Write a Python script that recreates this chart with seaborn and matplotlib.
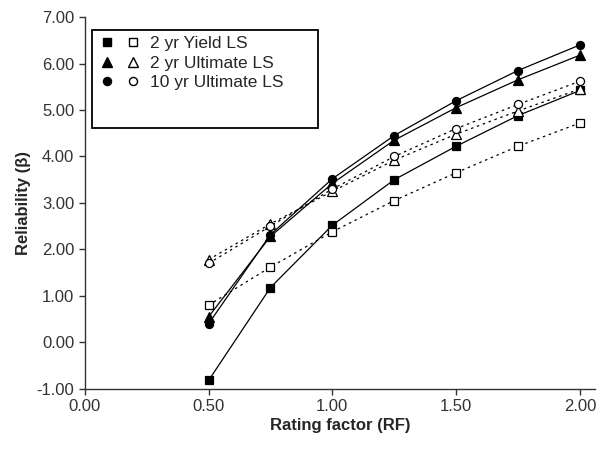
import matplotlib
matplotlib.use("Agg")
import matplotlib.pyplot as plt
import seaborn as sns
import pandas as pd
from matplotlib.lines import Line2D
from matplotlib.patches import Rectangle
from matplotlib.legend_handler import HandlerTuple

rf = [0.5, 0.75, 1.0, 1.25, 1.5, 1.75, 2.0]
yield2_solid = [-0.82, 1.18, 2.52, 3.50, 4.22, 4.88, 5.42]
yield2_open = [0.80, 1.62, 2.38, 3.05, 3.65, 4.22, 4.72]
ult2_solid = [0.55, 2.28, 3.42, 4.35, 5.05, 5.65, 6.18]
ult2_open = [1.78, 2.55, 3.25, 3.92, 4.48, 4.98, 5.45]
ult10_solid = [0.40, 2.32, 3.52, 4.45, 5.20, 5.85, 6.40]
ult10_open = [1.70, 2.50, 3.30, 4.00, 4.60, 5.12, 5.62]
legend_labels = ["2 yr Yield LS", "2 yr Ultimate LS", "10 yr Ultimate LS"]
x_ticks = [0.0, 0.5, 1.0, 1.5, 2.0]
y_ticks = [-1, 0, 1, 2, 3, 4, 5, 6, 7]

sns.set_style("ticks")
plt.rcParams['font.family'] = ['Liberation Sans', 'DejaVu Sans']

fig = plt.figure(figsize=(6.10, 4.49), dpi=100)
ax = fig.add_axes([0.139, 0.134, 0.836, 0.828])

msize = {'s': 6, '^': 6.5, 'o': 5.8}
series = [
    (yield2_solid, 's', True), (yield2_open, 's', False),
    (ult2_solid, '^', True), (ult2_open, '^', False),
    (ult10_solid, 'o', True), (ult10_open, 'o', False),
]
for vals, mk, filled in series:
    df = pd.DataFrame({"rf": rf, "r": vals})
    sns.lineplot(data=df, x="rf", y="r", ax=ax, color="black",
                 linewidth=0.9,
                 linestyle='-' if filled else (0, (2, 3)),
                 marker=mk, markersize=msize[mk],
                 markerfacecolor='black' if filled else 'white',
                 markeredgecolor='black', markeredgewidth=0.9)

ax.set_xlim(0, 2.06)
ax.set_ylim(-1, 7)
ax.set_xticks(x_ticks)
ax.set_yticks(y_ticks)
ax.set_xticklabels([f"{t:.2f}" for t in x_ticks], fontsize=12, color='#222222')
ax.set_yticklabels([f"{t:.2f}" for t in y_ticks], fontsize=12, color='#222222')
ax.set_xlabel("Rating factor (RF)", fontsize=12, fontweight='bold', labelpad=3)
ax.set_ylabel("Reliability (\u03b2)", fontsize=12, fontweight='bold', labelpad=4)
for s in ['top', 'right']:
    ax.spines[s].set_visible(False)
for s in ['left', 'bottom']:
    ax.spines[s].set_linewidth(1.0)
    ax.spines[s].set_color('#333333')
ax.tick_params(direction='out', length=4, width=1, colors='#333333')

# legend frame drawn as a rectangle (taller than entries, as in the reference)
ax.add_patch(Rectangle((0.0137, 0.702), 0.443, 0.263, transform=ax.transAxes,
                       facecolor='white', edgecolor='black', linewidth=1.3,
                       zorder=4, clip_on=False))

handles = []
for mk in ['s', '^', 'o']:
    h1 = Line2D([], [], linestyle='none', marker=mk, markersize=msize[mk],
                markerfacecolor='black', markeredgecolor='black')
    h2 = Line2D([], [], linestyle='none', marker=mk, markersize=msize[mk],
                markerfacecolor='white', markeredgecolor='black')
    handles.append((h1, h2))
leg = ax.legend(handles, legend_labels, handler_map={tuple: HandlerTuple(ndivide=None, pad=0.8)},
                loc='upper left', bbox_to_anchor=(0.025, 0.958), fontsize=12.5,
                frameon=False, borderpad=0.2,
                handlelength=2.2, handletextpad=0.6, labelspacing=0.25,
                borderaxespad=0)
leg.set_zorder(5)
fig.savefig("out.png", dpi=100)
